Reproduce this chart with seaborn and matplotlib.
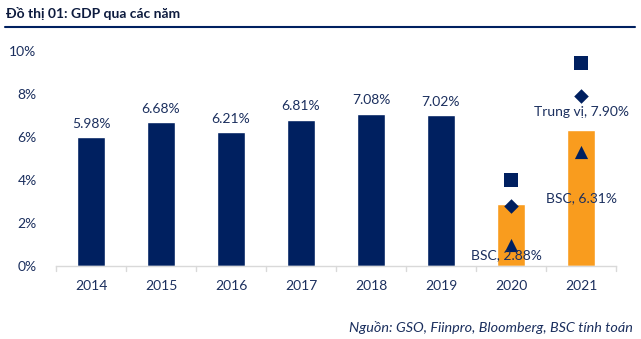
import matplotlib
matplotlib.use("Agg")
import matplotlib.pyplot as plt
import seaborn as sns
import pandas as pd

# GDP growth by year (%), 2020-2021 are BSC forecasts
years = ["2014", "2015", "2016", "2017", "2018", "2019", "2020", "2021"]
gdp = [5.98, 6.68, 6.21, 6.81, 7.08, 7.02, 2.88, 6.31]
is_forecast = [False, False, False, False, False, False, True, True]

# Forecast range markers for the forecast years
fc_years = ["2020", "2021"]
fc_high = [4.0, 9.45]
fc_median = [2.8, 7.90]
fc_low = [1.0, 5.3]

NAVY = "#002060"
ORANGE = "#F99C1E"
TEXT = "#1B2F5E"

sns.set_theme(style="white")
plt.rcParams["font.family"] = ["Lato", "DejaVu Sans"]

df = pd.DataFrame({"year": years, "gdp": gdp,
                   "kind": ["fc" if f else "act" for f in is_forecast]})

fig = plt.figure(figsize=(6.41, 3.39), dpi=100)
ax = fig.add_axes([56 / 641, 1 - 266 / 339, 560 / 641, 215 / 339])

sns.barplot(data=df, x="year", y="gdp", hue="kind",
            palette={"act": NAVY, "fc": ORANGE}, dodge=False,
            width=0.4, legend=False, ax=ax, saturation=1)

pos = {y: i for i, y in enumerate(years)}
fx = [pos[y] for y in fc_years]
ax.scatter(fx, fc_high, marker="s", s=95, color=NAVY, zorder=3, linewidths=0)
ax.scatter(fx, fc_median, marker="D", s=55, color=NAVY, zorder=3, linewidths=0)
ax.scatter(fx, fc_low, marker="^", s=90, color=NAVY, zorder=3, linewidths=0)

# value labels on actual years
for i, (v, f) in enumerate(zip(gdp, is_forecast)):
    if not f:
        ax.text(i, v + 0.35, f"{v:.2f}%", ha="center", va="bottom",
                fontsize=10, color=TEXT)

# forecast annotations
ax.text(pos["2020"] - 0.06, 0.5, f"BSC, {gdp[6]:.2f}%", ha="center",
        va="center", fontsize=10, color=TEXT)
ax.text(pos["2021"], 3.15, f"BSC, {gdp[7]:.2f}%", ha="center",
        va="center", fontsize=10, color=TEXT)
ax.text(pos["2021"], fc_median[1] - 0.73, f"Trung vị, {fc_median[1]:.2f}%",
        ha="center", va="center", fontsize=10, color=TEXT)

ax.set_xlim(-0.5, len(years) - 0.5)
ax.set_ylim(0, 10)
ax.set_yticks(range(0, 11, 2))
ax.set_yticklabels([f"{t}%" for t in range(0, 11, 2)])
ax.set_xticks(range(len(years)))
ax.set_xticklabels(years)
ax.set_xlabel("")
ax.set_ylabel("")
ax.tick_params(axis="both", labelsize=10, labelcolor=TEXT, length=0)
ax.tick_params(axis="x", pad=10)
ax.tick_params(axis="y", pad=14)

for s in ["top", "right", "left"]:
    ax.spines[s].set_visible(False)
ax.spines["bottom"].set_color("#D9D9D9")
ax.spines["bottom"].set_linewidth(1.0)
# category separator ticks
for b in range(len(years) + 1):
    ax.plot([b - 0.5, b - 0.5], [0, -0.25], color="#D9D9D9", lw=1.0,
            clip_on=False)

fig.text(6 / 641, 1 - 14 / 339, "Đồ thị 01: GDP qua các năm", fontsize=10,
         fontweight="bold", color="#0D1B3E", va="center", ha="left")
fig.add_artist(plt.Line2D([5 / 641, 635 / 641], [1 - 27 / 339, 1 - 27 / 339],
                          color=NAVY, lw=1.5))
fig.text(633 / 641, 1 - 327 / 339, "Nguồn: GSO, Fiinpro, Bloomberg, BSC tính toán",
         fontsize=10.4, style="italic", color=TEXT, ha="right", va="center")

fig.savefig("out.png", dpi=100)
